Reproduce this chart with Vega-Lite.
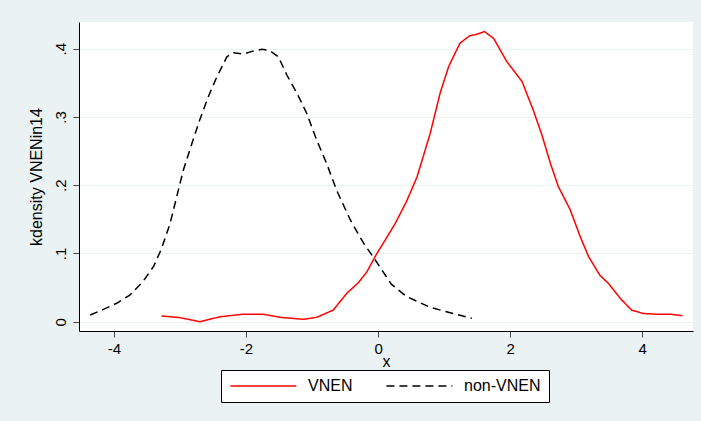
{
  "$schema": "https://vega.github.io/schema/vega-lite/v6.json",
  "width": 614,
  "height": 309,
  "autosize": {"type": "none"},
  "padding": {"left": 79, "top": 22, "right": 8, "bottom": 90},
  "background": "#EAF2F3",
  "config": {
    "view": {"fill": "white", "stroke": null},
    "font": "Liberation Sans",
    "axis": {
      "domainColor": "black",
      "tickColor": "#444444",
      "labelColor": "black",
      "titleColor": "black",
      "titleFontWeight": "normal",
      "labelFontSize": 15,
      "titleFontSize": 16,
      "tickSize": 6,
      "gridColor": "#EAF2F3",
      "gridOpacity": 1
    }
  },
  "data": {
    "values": [
      {"series": "non-VNEN", "x": -4.36, "y": 0.0098},
      {"series": "non-VNEN", "x": -4.16, "y": 0.018},
      {"series": "non-VNEN", "x": -3.96, "y": 0.027},
      {"series": "non-VNEN", "x": -3.76, "y": 0.039},
      {"series": "non-VNEN", "x": -3.56, "y": 0.059},
      {"series": "non-VNEN", "x": -3.40, "y": 0.081},
      {"series": "non-VNEN", "x": -3.28, "y": 0.107},
      {"series": "non-VNEN", "x": -3.15, "y": 0.144},
      {"series": "non-VNEN", "x": -3.05, "y": 0.183},
      {"series": "non-VNEN", "x": -2.95, "y": 0.222},
      {"series": "non-VNEN", "x": -2.82, "y": 0.261},
      {"series": "non-VNEN", "x": -2.70, "y": 0.296},
      {"series": "non-VNEN", "x": -2.57, "y": 0.330},
      {"series": "non-VNEN", "x": -2.44, "y": 0.359},
      {"series": "non-VNEN", "x": -2.29, "y": 0.388},
      {"series": "non-VNEN", "x": -2.19, "y": 0.394},
      {"series": "non-VNEN", "x": -2.04, "y": 0.392},
      {"series": "non-VNEN", "x": -1.91, "y": 0.396},
      {"series": "non-VNEN", "x": -1.76, "y": 0.399},
      {"series": "non-VNEN", "x": -1.64, "y": 0.397},
      {"series": "non-VNEN", "x": -1.51, "y": 0.388},
      {"series": "non-VNEN", "x": -1.38, "y": 0.361},
      {"series": "non-VNEN", "x": -1.23, "y": 0.335},
      {"series": "non-VNEN", "x": -1.08, "y": 0.305},
      {"series": "non-VNEN", "x": -0.93, "y": 0.266},
      {"series": "non-VNEN", "x": -0.78, "y": 0.232},
      {"series": "non-VNEN", "x": -0.63, "y": 0.193},
      {"series": "non-VNEN", "x": -0.42, "y": 0.149},
      {"series": "non-VNEN", "x": -0.22, "y": 0.115},
      {"series": "non-VNEN", "x": -0.06, "y": 0.093},
      {"series": "non-VNEN", "x": 0.20, "y": 0.055},
      {"series": "non-VNEN", "x": 0.43, "y": 0.037},
      {"series": "non-VNEN", "x": 0.79, "y": 0.021},
      {"series": "non-VNEN", "x": 1.14, "y": 0.012},
      {"series": "non-VNEN", "x": 1.42, "y": 0.005},
      {"series": "VNEN", "x": -3.28, "y": 0.0084},
      {"series": "VNEN", "x": -3.0, "y": 0.006},
      {"series": "VNEN", "x": -2.70, "y": 0.0},
      {"series": "VNEN", "x": -2.39, "y": 0.0073},
      {"series": "VNEN", "x": -2.04, "y": 0.011},
      {"series": "VNEN", "x": -1.74, "y": 0.011},
      {"series": "VNEN", "x": -1.48, "y": 0.0064},
      {"series": "VNEN", "x": -1.13, "y": 0.0035},
      {"series": "VNEN", "x": -0.93, "y": 0.0064},
      {"series": "VNEN", "x": -0.68, "y": 0.017},
      {"series": "VNEN", "x": -0.47, "y": 0.042},
      {"series": "VNEN", "x": -0.30, "y": 0.057},
      {"series": "VNEN", "x": -0.17, "y": 0.073},
      {"series": "VNEN", "x": -0.03, "y": 0.098},
      {"series": "VNEN", "x": 0.11, "y": 0.120},
      {"series": "VNEN", "x": 0.26, "y": 0.144},
      {"series": "VNEN", "x": 0.43, "y": 0.176},
      {"series": "VNEN", "x": 0.59, "y": 0.212},
      {"series": "VNEN", "x": 0.79, "y": 0.276},
      {"series": "VNEN", "x": 0.94, "y": 0.335},
      {"series": "VNEN", "x": 1.07, "y": 0.374},
      {"series": "VNEN", "x": 1.24, "y": 0.408},
      {"series": "VNEN", "x": 1.39, "y": 0.419},
      {"series": "VNEN", "x": 1.50, "y": 0.421},
      {"series": "VNEN", "x": 1.61, "y": 0.425},
      {"series": "VNEN", "x": 1.75, "y": 0.415},
      {"series": "VNEN", "x": 1.95, "y": 0.381},
      {"series": "VNEN", "x": 2.18, "y": 0.352},
      {"series": "VNEN", "x": 2.35, "y": 0.310},
      {"series": "VNEN", "x": 2.48, "y": 0.274},
      {"series": "VNEN", "x": 2.61, "y": 0.232},
      {"series": "VNEN", "x": 2.73, "y": 0.198},
      {"series": "VNEN", "x": 2.91, "y": 0.164},
      {"series": "VNEN", "x": 3.06, "y": 0.125},
      {"series": "VNEN", "x": 3.19, "y": 0.095},
      {"series": "VNEN", "x": 3.36, "y": 0.068},
      {"series": "VNEN", "x": 3.49, "y": 0.056},
      {"series": "VNEN", "x": 3.67, "y": 0.034},
      {"series": "VNEN", "x": 3.84, "y": 0.017},
      {"series": "VNEN", "x": 4.02, "y": 0.012},
      {"series": "VNEN", "x": 4.22, "y": 0.011},
      {"series": "VNEN", "x": 4.42, "y": 0.011},
      {"series": "VNEN", "x": 4.61, "y": 0.0088}
    ]
  },
  "mark": {"type": "line", "strokeWidth": 1.5, "clip": true},
  "encoding": {
    "x": {
      "field": "x",
      "type": "quantitative",
      "scale": {"domain": [-4.53, 4.77], "nice": false, "zero": false},
      "axis": {
        "title": "x",
        "values": [-4, -2, 0, 2, 4],
        "labelExpr": "datum.value < 0 ? '-' + abs(datum.value) : '' + datum.value",
        "grid": false,
        "labelPadding": 4,
        "titlePadding": -3
      }
    },
    "y": {
      "field": "y",
      "type": "quantitative",
      "scale": {"domain": [-0.0136, 0.439], "nice": false, "zero": false},
      "axis": {
        "title": "kdensity VNENin14",
        "values": [0, 0.1, 0.2, 0.3, 0.4],
        "labelExpr": "datum.value == 0 ? '0' : replace(format(datum.value, '.1f'), '0.', '.')",
        "labelAngle": 270,
        "labelAlign": "center",
        "labelBaseline": "bottom",
        "labelPadding": 5,
        "titlePadding": 9,
        "grid": true
      }
    },
    "color": {
      "field": "series",
      "type": "nominal",
      "scale": {"domain": ["VNEN", "non-VNEN"], "range": ["#FF0000", "#000000"]},
      "legend": {
        "title": null,
        "orient": "none",
        "legendX": 142,
        "legendY": 348,
        "direction": "horizontal",
        "symbolType": "M-1,0H9",
        "symbolSize": 174,
        "symbolStrokeWidth": 1.5,
        "labelFontSize": 16,
        "labelColor": "black",
        "labelOffset": 63,
        "columnPadding": 30,
        "padding": 8,
        "strokeColor": "black",
        "fillColor": "white",
        "cornerRadius": 0
      }
    },
    "strokeDash": {
      "field": "series",
      "type": "nominal",
      "scale": {"domain": ["VNEN", "non-VNEN"], "range": [[1, 0], [8, 5]]},
      "legend": null
    }
  }
}
